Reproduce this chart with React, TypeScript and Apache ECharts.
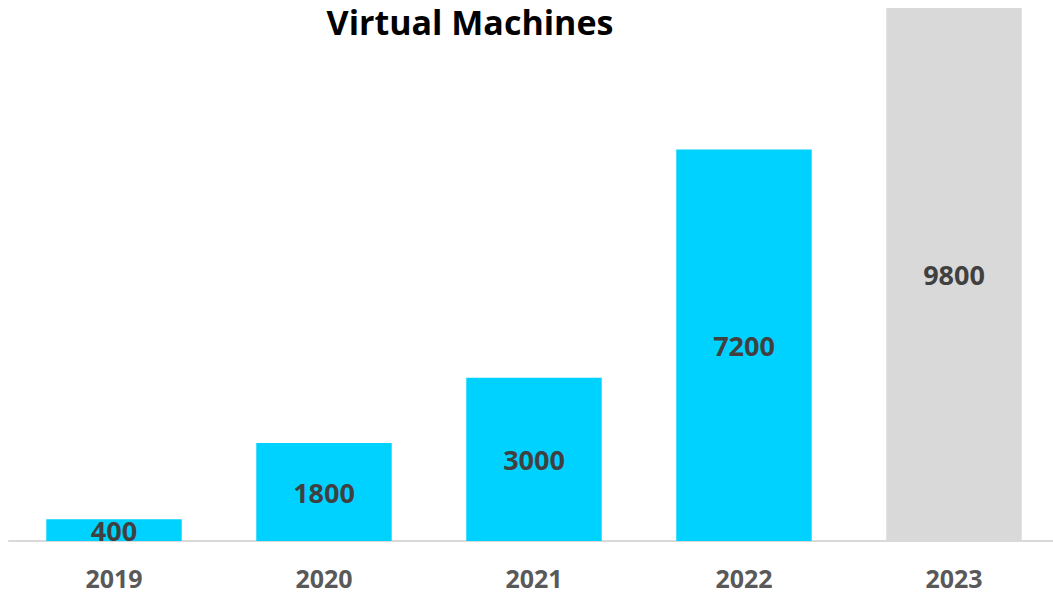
import React, { useEffect, useRef } from "react";
import * as echarts from "echarts";

const years = ["2019", "2020", "2021", "2022", "2023"];
const machines = [400, 1800, 3000, 7200, 9800];
const barColors = ["#00D2FF", "#00D2FF", "#00D2FF", "#00D2FF", "#D9D9D9"];
const titleText = "Virtual Machines";

export default function App() {
  const ref = useRef<HTMLDivElement>(null);
  useEffect(() => {
    if (!ref.current) return;
    const chart = echarts.init(ref.current, undefined, { renderer: "svg" });
    chart.setOption({
      animation: false,
      backgroundColor: "#ffffff",
      title: {
        text: titleText,
        left: 470,
        textAlign: "center",
        top: 0,
        padding: 0,
        textStyle: {
          fontFamily: "Open Sans",
          fontWeight: "bold",
          fontSize: 34,
          lineHeight: 44,
          color: "#000000",
        },
      },
      grid: { left: 9, width: 1050, top: 8, bottom: 54, containLabel: false },
      xAxis: {
        type: "category",
        data: years,
        axisLine: { show: true, lineStyle: { color: "#D9D9D9", width: 2 } },
        axisTick: { show: false },
        axisLabel: {
          color: "#595959",
          fontFamily: "Open Sans",
          fontWeight: "bold",
          fontSize: 25,
          margin: 24,
        },
      },
      yAxis: {
        type: "value",
        min: 0,
        max: 9800,
        show: false,
        splitLine: { show: false },
      },
      series: [
        {
          type: "bar",
          data: machines.map((v, i) => ({ value: v, itemStyle: { color: barColors[i] } })),
          barWidth: "64.5%",
          label: {
            show: true,
            position: "inside",
            color: "#404040",
            fontFamily: "Open Sans",
            fontWeight: "bold",
            fontSize: 27,
          },
        },
      ],
    });
    return () => chart.dispose();
  }, []);
  return (
    <div
      style={{
        position: "fixed",
        left: 0,
        top: 0,
        width: 1053,
        height: 595,
        overflow: "hidden",
        background: "#ffffff",
      }}
    >
      <div ref={ref} style={{ width: 1065, height: 595 }} />
    </div>
  );
}
